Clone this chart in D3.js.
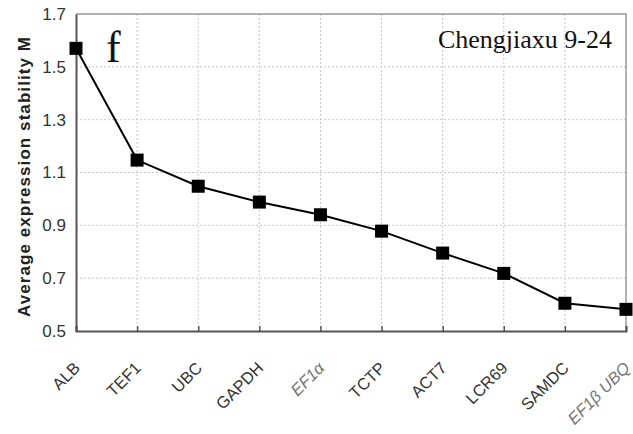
<!DOCTYPE html>
<html><head><meta charset="utf-8">
<script src="https://cdn.jsdelivr.net/npm/d3@7/dist/d3.min.js"></script>
<style>body{margin:0;background:#fff}</style>
</head><body><svg id="c" width="633" height="434"></svg>
<script>
const categories = ["ALB","TEF1","UBC","GAPDH","EF1α","TCTP","ACT7","LCR69","SAMDC","EF1β UBQ"];
const values = [1.57,1.147,1.048,0.988,0.94,0.878,0.795,0.718,0.605,0.582];
const yTicks = [0.5,0.7,0.9,1.1,1.3,1.5,1.7];
const grayLabels = ["EF1α","EF1β UBQ"];

const svg = d3.select("#c");
const m = {l:76, r:7, t:14, b:103};
const W = 633, H = 434;
const x = d3.scalePoint().domain(categories).range([m.l, W-m.r]).padding(0);
const y = d3.scaleLinear().domain([0.5,1.7]).range([H-m.b, m.t]);
const sans = "Arial, 'Liberation Sans', sans-serif";
const serif = "'Times New Roman', 'Liberation Serif', serif";

// grid
svg.append("g").selectAll("line.h").data(yTicks.slice(1,-1)).join("line")
  .attr("x1",m.l).attr("x2",W-m.r).attr("y1",d=>y(d)).attr("y2",d=>y(d))
  .attr("stroke","#c8c8c8").attr("stroke-width",1).attr("stroke-dasharray","2,2");
svg.append("g").selectAll("line.v").data(categories.slice(1,-1)).join("line")
  .attr("x1",d=>x(d)).attr("x2",d=>x(d)).attr("y1",m.t).attr("y2",H-m.b)
  .attr("stroke","#c8c8c8").attr("stroke-width",1).attr("stroke-dasharray","2,2");

// frame top/right
svg.append("path").attr("d",`M${m.l},${m.t}H${W-m.r}V${H-m.b}`)
  .attr("fill","none").attr("stroke","#999").attr("stroke-width",1.5);

// axes
const yAxis = d3.axisLeft(y).tickValues(yTicks).tickFormat(d3.format(".1f")).tickSize(0).tickPadding(10);
const gy = svg.append("g").attr("transform",`translate(${m.l},0)`).call(yAxis);
gy.select(".domain").attr("stroke","#555").attr("stroke-width",2);
gy.selectAll("text").attr("font-family",sans).attr("font-size",17).attr("fill","#333");

const xAxis = d3.axisBottom(x).tickSize(-5).tickFormat("");
const gx = svg.append("g").attr("transform",`translate(0,${H-m.b})`).call(xAxis);
gx.select(".domain").attr("stroke","#555").attr("stroke-width",2);
gx.selectAll(".tick line").attr("stroke","#555").attr("stroke-width",1.5);

svg.append("g").selectAll("text").data(categories).join("text")
  .attr("transform",d=>`translate(${x(d)+5},${H-m.b+38}) rotate(-45)`)
  .attr("text-anchor","end")
  .attr("font-family",sans).attr("font-size",16.5)
  .attr("fill",d=>grayLabels.includes(d)?"#777":"#333")
  .attr("font-style",d=>grayLabels.includes(d)?"italic":"normal")
  .text(d=>d);

// y label
svg.append("text").attr("transform",`translate(30,177) rotate(-90)`)
  .attr("text-anchor","middle").attr("font-family",sans)
  .attr("font-size",17).attr("font-weight","bold").attr("fill","#222")
  .attr("textLength",280).attr("lengthAdjust","spacing")
  .text("Average expression stability M");

// line
svg.append("path").datum(values)
  .attr("d",d3.line().x((d,i)=>x(categories[i])).y(d=>y(d)))
  .attr("fill","none").attr("stroke","#000").attr("stroke-width",2);
svg.append("g").selectAll("rect").data(values).join("rect")
  .attr("x",(d,i)=>x(categories[i])-6.5).attr("y",d=>y(d)-6.5)
  .attr("width",13).attr("height",13).attr("fill","#000");

// annotations
svg.append("text").attr("x",106).attr("y",62).attr("font-family",serif)
  .attr("font-size",44).attr("fill","#111").text("f");
svg.append("text").attr("x",612).attr("y",48).attr("text-anchor","end")
  .attr("font-family",serif)
  .attr("font-size",26).attr("fill","#111").text("Chengjiaxu 9-24");
</script></body></html>
